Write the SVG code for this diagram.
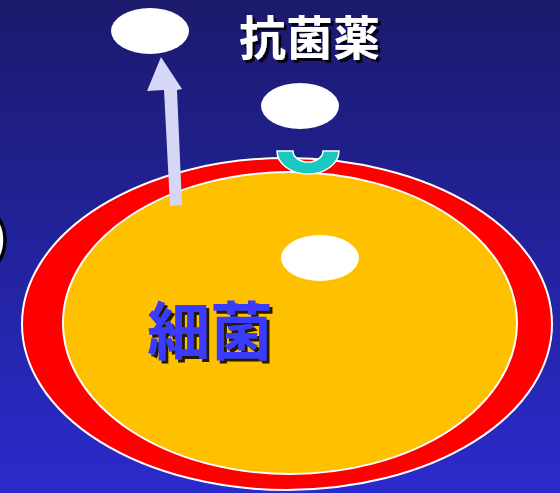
<svg xmlns="http://www.w3.org/2000/svg" width="560" height="493" viewBox="0 0 560 493">
  <defs>
    <linearGradient id="bg" x1="0" y1="0" x2="0" y2="1">
      <stop offset="0" stop-color="#1b1a6c"/>
      <stop offset="1" stop-color="#2a2bcc"/>
    </linearGradient>
    <filter id="shadow" x="-10%" y="-10%" width="130%" height="130%">
      <feOffset in="SourceAlpha" dx="2.5" dy="2.5" result="off"/>
      <feFlood flood-color="#000000" flood-opacity="0.85"/>
      <feComposite in2="off" operator="in" result="sh"/>
      <feMerge>
        <feMergeNode in="sh"/>
        <feMergeNode in="SourceGraphic"/>
      </feMerge>
    </filter>
    <style>
      .blob { fill: #ffffff; }
      .jp { font-family: "Noto Sans CJK JP", "Noto Sans CJK SC", sans-serif; font-weight: 700; filter: url(#shadow); }
    </style>
  </defs>

  <rect width="560" height="493" fill="url(#bg)"/>

  <!-- partial cell at the left edge -->
  <g id="left-cell">
    <ellipse cx="-29" cy="240" rx="34" ry="37" fill="#ffffff" stroke="#000000" stroke-width="3.5"/>
  </g>

  <!-- bacterium: cell wall and cytoplasm -->
  <g id="bacterium">
    <ellipse cx="287" cy="324" rx="265" ry="166" fill="#ff0000" stroke="#ffffff" stroke-width="2"/>
    <ellipse cx="290" cy="323" rx="227" ry="151" fill="#ffc000" stroke="#ffffff" stroke-width="2"/>
  </g>

  <g id="molecule-out"><ellipse class="blob" cx="150" cy="31" rx="39" ry="23"/></g>
  <g id="molecule-drug"><ellipse class="blob" cx="300" cy="106" rx="39" ry="23"/></g>
  <g id="molecule-in"><ellipse class="blob" cx="320" cy="258" rx="39" ry="23"/></g>

  <!-- receptor cup on the cell wall -->
  <g id="receptor">
    <path d="M277,151 A31,23 0 0 0 339,151 L323,151 A15,11 0 0 1 293,151 Z" fill="#19c9c0" stroke="#ffffff" stroke-width="1.5"/>
  </g>

  <g id="connectors">
    <path d="M170,206 L164,90 L147,91 L161,57 L182,89 L177,90 L182,205 Z" fill="#d6d6f6"/>
  </g>

  <g id="label-drug">
    <text class="jp" x="239" y="55" font-size="47" fill="#ffffff">抗菌薬</text>
  </g>
  <g id="label-bacterium">
    <text class="jp" x="147" y="354" font-size="63" fill="#3b3bff">細菌</text>
  </g>
</svg>
